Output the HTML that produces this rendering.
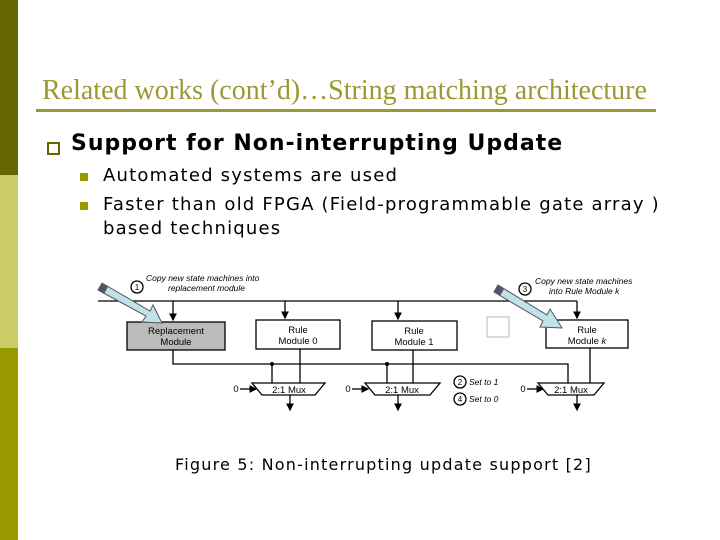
<!DOCTYPE html>
<html><head><style>
body{margin:0;width:720px;height:540px;background:#fff;position:relative;overflow:hidden;font-family:"DejaVu Sans",sans-serif}
.bar{position:absolute;left:0;width:18px}
.t{position:absolute;white-space:nowrap}
</style></head><body>
<div class="bar" style="top:0;height:175px;background:#666600"></div>
<div class="bar" style="top:175px;height:173px;background:#cccc66"></div>
<div class="bar" style="top:348px;height:192px;background:#999900"></div>
<div class="t" style="left:42px;top:75px;font-family:'Liberation Serif',serif;font-size:28px;color:#999933">Related works (cont’d)…String matching architecture</div>
<div style="position:absolute;left:36px;top:109px;width:620px;height:3px;background:#999933"></div>
<div style="position:absolute;left:47px;top:142px;width:9px;height:9px;border:2px solid #666600"></div>
<div class="t" style="left:71px;top:131px;font-size:22px;font-weight:bold;letter-spacing:1px">Support for Non-interrupting Update</div>
<div style="position:absolute;left:80px;top:173px;width:8px;height:8px;background:#999900"></div>
<div style="position:absolute;left:80px;top:202px;width:8px;height:8px;background:#999900"></div>
<div class="t" style="left:103px;top:165px;font-size:18px;letter-spacing:1.2px">Automated systems are used</div>
<div class="t" style="left:103px;top:194px;font-size:18px;letter-spacing:1.2px">Faster than old FPGA (Field-programmable gate array )</div>
<div class="t" style="left:103px;top:218px;font-size:18px;letter-spacing:1.2px">based techniques</div>
<svg style="position:absolute;left:0;top:0" width="720" height="540" font-family="Liberation Sans,sans-serif">
<defs><marker id="a" markerWidth="6" markerHeight="6" refX="5" refY="3" orient="auto"><path d="M0,0L6,3L0,6z" fill="#000"/></marker></defs>
<g stroke="#000" stroke-width="1.3" fill="none">
<line x1="98" y1="301" x2="577" y2="301"/>
<line x1="173" y1="301" x2="173" y2="320" marker-end="url(#a)"/>
<line x1="285" y1="301" x2="285" y2="318" marker-end="url(#a)"/>
<line x1="398" y1="301" x2="398" y2="319" marker-end="url(#a)"/>
<line x1="577" y1="301" x2="577" y2="318" marker-end="url(#a)"/>
<polyline points="173,350 173,364 568,364 568,383"/>
<line x1="272" y1="364" x2="272" y2="383"/>
<line x1="387" y1="364" x2="387" y2="383"/>
<line x1="300" y1="349" x2="300" y2="383"/>
<line x1="413" y1="350" x2="413" y2="383"/>
<line x1="590" y1="348" x2="590" y2="383"/>
<line x1="290" y1="395" x2="290" y2="410" marker-end="url(#a)"/>
<line x1="398" y1="395" x2="398" y2="410" marker-end="url(#a)"/>
<line x1="577" y1="395" x2="577" y2="410" marker-end="url(#a)"/>
<line x1="240" y1="389" x2="256" y2="389" marker-end="url(#a)"/>
<line x1="352" y1="389" x2="368" y2="389" marker-end="url(#a)"/>
<line x1="527" y1="389" x2="543" y2="389" marker-end="url(#a)"/>
<path d="M252,383H325L315,395H262z" fill="#fff"/>
<path d="M365,383H440L430,395H375z" fill="#fff"/>
<path d="M538,383H604L594,395H548z" fill="#fff"/>
<rect x="127" y="322" width="98" height="28" fill="#bbb"/>
<rect x="256" y="320" width="84" height="29" fill="#fff"/>
<rect x="372" y="321" width="85" height="29" fill="#fff"/>
<rect x="546" y="320" width="82" height="28" fill="#fff"/>
<circle cx="137" cy="287" r="6"/><circle cx="525" cy="289" r="6"/>
<circle cx="460" cy="382" r="6"/><circle cx="460" cy="399" r="6"/>
</g>
<rect x="487" y="317" width="22" height="20" fill="none" stroke="#bbb"/>
<circle cx="272" cy="364" r="2"/><circle cx="387" cy="364" r="2"/>
<g fill="#bfe3e8" stroke="#555" stroke-width="1">
<path d="M102,283L150,311L153,305L162,323L142,322L146,316L98,290z"/>
<path d="M498,285L547,315L550,309L562,328L540,327L543,321L494,292z"/>
</g>
<path d="M98,290L102,283L108,287L104,294z" fill="#556"/>
<path d="M494,292L498,285L504,289L500,296z" fill="#556"/>
<g font-size="9.5" text-anchor="middle">
<text x="176" y="334">Replacement</text><text x="176" y="345">Module</text>
<text x="298" y="333">Rule</text><text x="298" y="344">Module 0</text>
<text x="414" y="334">Rule</text><text x="414" y="345">Module 1</text>
<text x="587" y="333">Rule</text><text x="587" y="344">Module <tspan font-style="italic">k</tspan></text>
<text x="289" y="393">2:1 Mux</text><text x="402" y="393">2:1 Mux</text><text x="571" y="393">2:1 Mux</text>
<text x="137" y="290" font-size="8">1</text><text x="525" y="292" font-size="8">3</text>
<text x="460" y="385" font-size="8">2</text><text x="460" y="402" font-size="8">4</text>
<text x="236" y="392">0</text><text x="348" y="392">0</text><text x="523" y="392">0</text>
</g>
<g font-size="8.5" font-style="italic">
<text x="146" y="281">Copy new state machines into</text>
<text x="168" y="291">replacement module</text>
<text x="535" y="284">Copy new state machines</text>
<text x="549" y="294">into Rule Module k</text>
<text x="469" y="385">Set to 1</text>
<text x="469" y="402">Set to 0</text>
</g>
</svg>
<div class="t" style="left:175px;top:455px;font-size:16px;letter-spacing:1.2px">Figure 5: Non-interrupting update support [2]</div>
</body></html>
